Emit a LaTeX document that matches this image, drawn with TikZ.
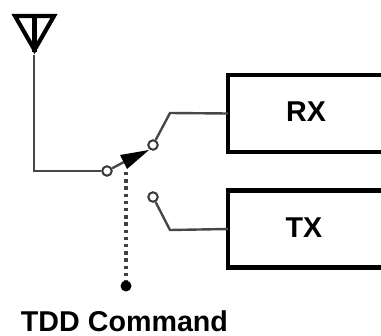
\documentclass[tikz,border=0pt]{standalone}
\usepackage{fontspec}
\setmainfont{Liberation Sans}
\tikzset{
  wire/.style={line width=1.8pt, draw=black!72, line join=miter},
  blockbox/.style={draw=black, line width=3.2pt, fill=white, outer sep=0pt, minimum width=200*0.75pt, minimum height=77*0.75pt, inner sep=0pt},
  lbl/.style={font=\fontsize{21.5}{24}\selectfont\bfseries, inner sep=0pt},
  contact/.style={circle, draw=black!78, line width=1.5pt, fill=white, minimum size=9.5*0.75pt, inner sep=0pt},
  blob/.style={circle, fill=black, minimum size=11*0.75pt, inner sep=0pt},
  ctrl/.style={line width=2.6pt, draw=black!75, dash pattern=on 2.6pt off 2.8pt}
}
\begin{document}
\begin{tikzpicture}[x=0.75pt,y=-0.75pt]
\useasboundingbox (0,0) rectangle (381,335);
\begin{scope}
\clip (0,0) rectangle (381,335);
\node[blockbox, anchor=west] (rx) at (228,113.5) {};
\node[blockbox, anchor=west] (tx) at (228,229) {};
\end{scope}
\node[lbl] (rxt) at (306,111.5) {RX};
\node[lbl] (txt) at (304,228) {TX};
\node[contact] (c0) at (107,171) {};
\node[contact] (c1) at (153,145) {};
\node[contact] (c2) at (153,197) {};
\node[blob] (dot) at (126,286) {};
\coordinate (ant) at (34,55);
\coordinate (corner) at (34,171);
\coordinate (k1) at (170,113);
\coordinate (k2) at (170,230);
\coordinate (tipbase) at (124,162);
\draw[wire] (ant) -- (corner) -- (c0);
\draw[wire] (c1) -- (k1) -- (rx.west);
\draw[wire] (c2) -- (k2) -- (tx.west);
\draw[wire] (c0) -- (tipbase);
\draw[ctrl] (126,172) -- (dot);
\fill[black] (120,155) -- (127,169) -- (149,150) -- cycle;
\draw[line width=3.1pt, line join=miter, miter limit=10] (15,16) -- (54,16) -- (34.5,50) -- cycle;
\draw[line width=3.4pt] (34.5,15) -- (34.5,52);
\node[lbl] (cmd) at (124.5,321.5) {TDD Command};
\end{tikzpicture}
\end{document}
